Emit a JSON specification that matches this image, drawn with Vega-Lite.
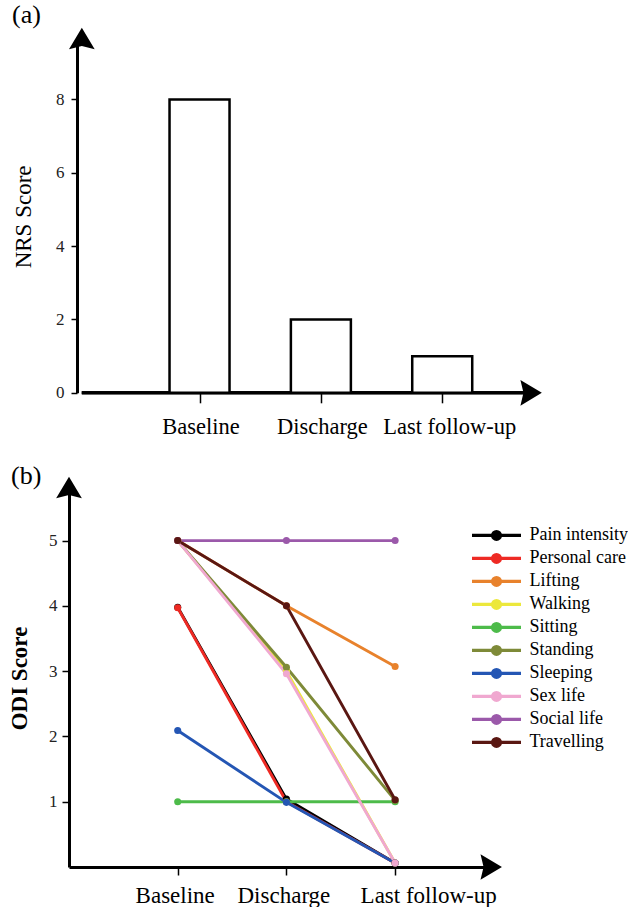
{
  "$schema": "https://vega.github.io/schema/vega-lite/v6.json",
  "padding": {"left": 8, "top": 1, "right": 0, "bottom": 0},
  "background": "white",
  "spacing": 23,
  "resolve": {"legend": {"color": "independent"}},
  "config": {
    "font": "Liberation Serif",
    "view": {"stroke": null},
    "axis": {"grid": false, "domainColor": "black", "domainWidth": 3, "tickColor": "black", "tickWidth": 1.5, "labelFont": "Liberation Serif", "titleFont": "Liberation Serif", "labelColor": "#222222", "titleColor": "black", "labelFlush": false, "labelOverlap": false},
    "title": {"font": "Liberation Serif", "fontWeight": "normal", "fontSize": 26, "anchor": "start", "frame": "group", "baseline": "alphabetic", "color": "black"}
  },
  "vconcat": [
    {
      "title": {"text": "(a)", "dx": -57, "offset": 0},
      "width": 465.6,
      "height": 352.8,
      "data": {"values": [
        {"stage": "Baseline", "t": 1, "nrs": 8},
        {"stage": "Discharge", "t": 2, "nrs": 2},
        {"stage": "Last follow-up", "t": 3, "nrs": 1}
      ]},
      "layer": [
        {
          "mark": {"type": "rule", "stroke": "black", "strokeWidth": 3},
          "encoding": {"x": {"datum": 0.03, "type": "quantitative"}, "x2": {"datum": 3.72}, "y": {"datum": 0, "type": "quantitative"}}
        },
        {
          "mark": {"type": "bar", "width": 60, "fill": "white", "stroke": "black", "strokeWidth": 2.5},
          "encoding": {
            "x": {"field": "t", "type": "quantitative", "scale": {"domain": [-0.0345, 3.72], "nice": false, "zero": false},
              "axis": {"values": [1, 2, 3], "labelExpr": "datum.value == 1 ? 'Baseline' : datum.value == 2 ? 'Discharge' : 'Last follow-up'", "title": null, "domain": false, "tickSize": 10, "labelFontSize": 22.5, "labelPadding": 13, "labelColor": "black",
                "labelOffset": {"condition": {"test": "datum.value == 3", "value": 7}, "value": 1}}},
            "y": {"field": "nrs", "type": "quantitative", "scale": {"domain": [0, 9.62], "nice": false},
              "axis": {"values": [0, 2, 4, 6, 8], "format": "d", "offset": -8, "tickSize": 6, "labelPadding": 7, "labelFontSize": 17, "title": "NRS Score", "titleFontSize": 23, "titleFontWeight": "normal", "titlePadding": 20}}
          }
        },
        {
          "data": {"values": [{}]},
          "mark": {"type": "point", "shape": "M0,-1L1.05,0.75L0,0.5L-1.05,0.75Z", "filled": true, "size": 600, "color": "black", "opacity": 1, "clip": false},
          "encoding": {"x": {"datum": 0.03, "type": "quantitative"}, "y": {"datum": 9.62, "type": "quantitative"}}
        },
        {
          "data": {"values": [{}]},
          "mark": {"type": "point", "shape": "M1,0L-0.75,1.05L-0.5,0L-0.75,-1.05Z", "filled": true, "size": 600, "color": "black", "opacity": 1, "clip": false},
          "encoding": {"x": {"datum": 3.72, "type": "quantitative"}, "y": {"datum": 0, "type": "quantitative"}}
        }
      ]
    },
    {
      "title": {"text": "(b)", "dx": -58, "offset": -12},
      "width": 420.7,
      "height": 378,
      "data": {"values": [
        {"item": "Pain intensity", "stage": "Baseline", "t": 1, "odi": 3.98},
        {"item": "Pain intensity", "stage": "Discharge", "t": 2, "odi": 1.04},
        {"item": "Pain intensity", "stage": "Last follow-up", "t": 3, "odi": 0.06},
        {"item": "Personal care", "stage": "Baseline", "t": 1, "odi": 3.97},
        {"item": "Personal care", "stage": "Discharge", "t": 2, "odi": 1.0},
        {"item": "Personal care", "stage": "Last follow-up", "t": 3, "odi": 0.06},
        {"item": "Lifting", "stage": "Baseline", "t": 1, "odi": 5},
        {"item": "Lifting", "stage": "Discharge", "t": 2, "odi": 4.0},
        {"item": "Lifting", "stage": "Last follow-up", "t": 3, "odi": 3.07},
        {"item": "Walking", "stage": "Baseline", "t": 1, "odi": 5},
        {"item": "Walking", "stage": "Discharge", "t": 2, "odi": 3.0},
        {"item": "Walking", "stage": "Last follow-up", "t": 3, "odi": 0.06},
        {"item": "Sitting", "stage": "Baseline", "t": 1, "odi": 1},
        {"item": "Sitting", "stage": "Discharge", "t": 2, "odi": 1},
        {"item": "Sitting", "stage": "Last follow-up", "t": 3, "odi": 1},
        {"item": "Standing", "stage": "Baseline", "t": 1, "odi": 5},
        {"item": "Standing", "stage": "Discharge", "t": 2, "odi": 3.06},
        {"item": "Standing", "stage": "Last follow-up", "t": 3, "odi": 1.02},
        {"item": "Sleeping", "stage": "Baseline", "t": 1, "odi": 2.09},
        {"item": "Sleeping", "stage": "Discharge", "t": 2, "odi": 0.99},
        {"item": "Sleeping", "stage": "Last follow-up", "t": 3, "odi": 0.06},
        {"item": "Sex life", "stage": "Baseline", "t": 1, "odi": 5},
        {"item": "Sex life", "stage": "Discharge", "t": 2, "odi": 2.96},
        {"item": "Sex life", "stage": "Last follow-up", "t": 3, "odi": 0.06},
        {"item": "Social life", "stage": "Baseline", "t": 1, "odi": 5},
        {"item": "Social life", "stage": "Discharge", "t": 2, "odi": 5},
        {"item": "Social life", "stage": "Last follow-up", "t": 3, "odi": 5},
        {"item": "Travelling", "stage": "Baseline", "t": 1, "odi": 5},
        {"item": "Travelling", "stage": "Discharge", "t": 2, "odi": 4.0},
        {"item": "Travelling", "stage": "Last follow-up", "t": 3, "odi": 1.03}
      ]},
      "layer": [
        {
          "mark": {"type": "line", "strokeWidth": 2.9, "point": {"filled": true, "size": 50, "opacity": 1}},
          "encoding": {
            "x": {"field": "t", "type": "quantitative", "scale": {"domain": [0, 3.87], "nice": false, "zero": false},
              "axis": {"values": [1, 2, 3], "labelExpr": "datum.value == 1 ? 'Baseline' : datum.value == 2 ? 'Discharge' : 'Last follow-up'", "title": null, "tickSize": 8, "labelFontSize": 23, "labelPadding": 9, "labelColor": "black",
                "labelOffset": {"condition": {"test": "datum.value == 3", "value": 33}, "value": -3}}},
            "y": {"field": "odi", "type": "quantitative", "scale": {"domain": [0, 5.79], "nice": false},
              "axis": {"values": [1, 2, 3, 4, 5], "format": "d", "tickSize": 7, "labelPadding": 5, "labelFontSize": 17, "title": "ODI Score", "titleFontSize": 23, "titleFontWeight": "bold", "titlePadding": 17}},
            "color": {"field": "item", "type": "nominal",
              "scale": {"domain": ["Pain intensity", "Personal care", "Lifting", "Walking", "Sitting", "Standing", "Sleeping", "Sex life", "Social life", "Travelling"],
                        "range": ["#000000", "#ee2a24", "#e8822c", "#ece83c", "#4dbb4a", "#7e8a38", "#2456b4", "#f0a8d0", "#9b59aa", "#5a1712"]},
              "legend": {"orient": "none", "legendX": 401, "legendY": 35, "title": null, "padding": 0,
                "symbolType": "M-1,0L1,0M0.16,0A0.16,0.16,0,1,1,-0.16,0A0.16,0.16,0,1,1,0.16,0Z",
                "symbolSize": 2401, "symbolStrokeWidth": 3.2, "labelFontSize": 18, "labelFont": "Liberation Serif", "labelColor": "black",
                "clipHeight": 22.9, "rowPadding": 0, "labelOffset": 6.5,
                "encode": {"symbols": {"update": {"fill": {"scale": "color", "field": "value"}, "stroke": {"scale": "color", "field": "value"}, "opacity": {"value": 1}}}}}}
          }
        },
        {
          "data": {"values": [{}]},
          "mark": {"type": "point", "shape": "M0,-1L1.05,0.75L0,0.5L-1.05,0.75Z", "filled": true, "size": 600, "color": "black", "opacity": 1, "clip": false},
          "encoding": {"x": {"datum": 0, "type": "quantitative"}, "y": {"datum": 5.79, "type": "quantitative"}}
        },
        {
          "data": {"values": [{}]},
          "mark": {"type": "point", "shape": "M1,0L-0.75,1.05L-0.5,0L-0.75,-1.05Z", "filled": true, "size": 600, "color": "black", "opacity": 1, "clip": false},
          "encoding": {"x": {"datum": 3.87, "type": "quantitative"}, "y": {"datum": 0, "type": "quantitative"}}
        }
      ]
    }
  ]
}
